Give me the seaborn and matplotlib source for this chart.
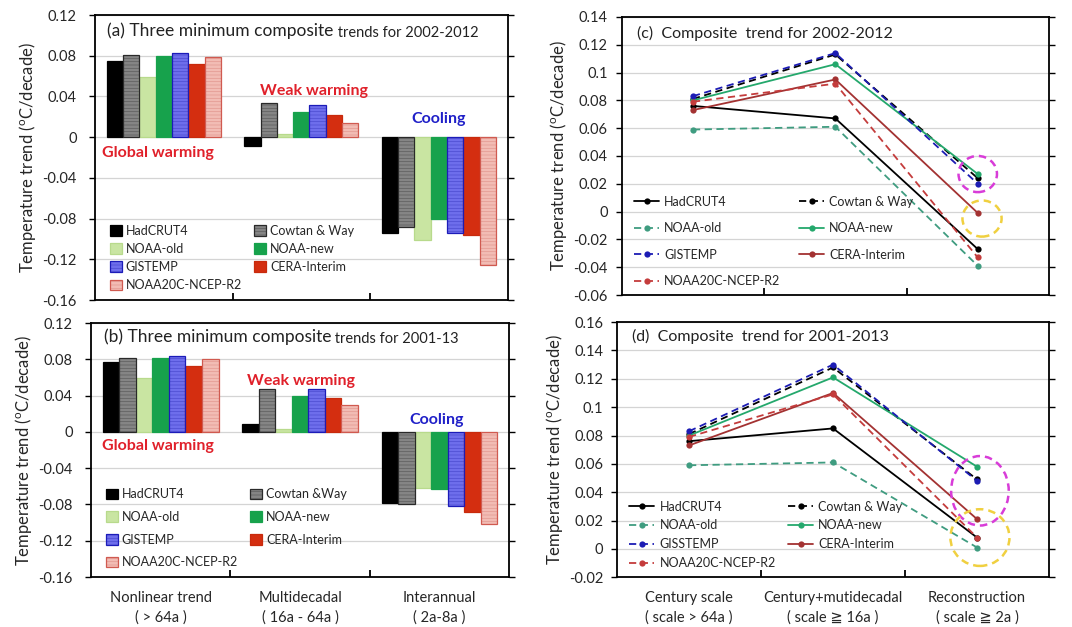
import numpy as np
import pandas as pd
import matplotlib
matplotlib.use("Agg")
import matplotlib.pyplot as plt
from matplotlib.patches import Patch, Ellipse, Rectangle
from matplotlib.lines import Line2D
from matplotlib.ticker import FixedLocator, FuncFormatter
from matplotlib.legend_handler import HandlerPatch
import seaborn as sns

# ---------------- data ----------------
datasets = ["HadCRUT4", "Cowtan & Way", "NOAA-old", "NOAA-new",
            "GISTEMP", "CERA-Interim", "NOAA20C-NCEP-R2"]

bar_scales = ["Nonlinear trend\n( > 64a )", "Multidecadal\n( 16a - 64a )",
              "Interannual\n( 2a-8a )"]
line_scales = ["Century scale\n( scale > 64a )",
               "Century+mutidecadal\n( scale \u2267 16a )",
               "Reconstruction\n( scale \u2267 2a )"]

# (a) three minimum composite trends, 2002-2012
hadcrut4_a = [0.075, -0.009, -0.094]
cowtan_a = [0.081, 0.034, -0.088]
noaa_old_a = [0.059, 0.003, -0.101]
noaa_new_a = [0.080, 0.025, -0.080]
gistemp_a = [0.083, 0.032, -0.094]
cera_a = [0.072, 0.022, -0.096]
noaa20c_a = [0.079, 0.014, -0.126]

# (b) three minimum composite trends, 2001-13
hadcrut4_b = [0.077, 0.009, -0.078]
cowtan_b = [0.081, 0.047, -0.080]
noaa_old_b = [0.059, 0.003, -0.062]
noaa_new_b = [0.081, 0.040, -0.063]
gistemp_b = [0.084, 0.047, -0.082]
cera_b = [0.073, 0.037, -0.088]
noaa20c_b = [0.080, 0.030, -0.102]

# (c) composite trend, 2002-2012
hadcrut4_c = [0.076, 0.067, -0.027]
cowtan_c = [0.081, 0.113, 0.024]
noaa_old_c = [0.059, 0.061, -0.039]
noaa_new_c = [0.080, 0.106, 0.027]
gistemp_c = [0.083, 0.114, 0.020]
cera_c = [0.073, 0.095, -0.001]
noaa20c_c = [0.079, 0.092, -0.033]

# (d) composite trend, 2001-2013
hadcrut4_d = [0.076, 0.085, 0.008]
cowtan_d = [0.081, 0.128, 0.049]
noaa_old_d = [0.059, 0.061, 0.001]
noaa_new_d = [0.080, 0.121, 0.058]
gistemp_d = [0.083, 0.130, 0.048]
cera_d = [0.073, 0.110, 0.021]
noaa20c_d = [0.079, 0.109, 0.008]

yticks_ab = [0.12, 0.08, 0.04, 0, -0.04, -0.08, -0.12, -0.16]
yticks_c = [0.14, 0.12, 0.1, 0.08, 0.06, 0.04, 0.02, 0, -0.02, -0.04, -0.06]
yticks_d = [0.16, 0.14, 0.12, 0.1, 0.08, 0.06, 0.04, 0.02, 0, -0.02]

# ---------------- styles ----------------
bar_fill = {"HadCRUT4": "#000000", "Cowtan & Way": "#858585",
            "NOAA-old": "#c9e5a2", "NOAA-new": "#17a24c",
            "GISTEMP": "#6e6eec", "CERA-Interim": "#d42e10",
            "NOAA20C-NCEP-R2": "#f2bcb4"}
bar_edge = {"HadCRUT4": "#000000", "Cowtan & Way": "#2a2a2a",
            "NOAA-old": "#b8da8c", "NOAA-new": "#17a24c",
            "GISTEMP": "#1c1cb8", "CERA-Interim": "#c82a0c",
            "NOAA20C-NCEP-R2": "#d05a50"}
# fine horizontal line texture drawn inside some bars
bar_texture = {"Cowtan & Way": "#5c5c5c", "GISTEMP": "#4c4cd0",
               "NOAA20C-NCEP-R2": "#e29890"}
texture_hatch = "-----"

line_color = {"HadCRUT4": "#000000", "Cowtan & Way": "#000000",
              "NOAA-old": "#3f9c80", "NOAA-new": "#24a86c",
              "GISTEMP": "#1c1cb4", "CERA-Interim": "#a33232",
              "NOAA20C-NCEP-R2": "#c43c3c"}
line_dashed = {"HadCRUT4": False, "Cowtan & Way": True, "NOAA-old": True,
               "NOAA-new": False, "GISTEMP": True, "CERA-Interim": False,
               "NOAA20C-NCEP-R2": True}

sns.set_theme(style="white")
plt.rcParams["font.family"] = ["Lato", "DejaVu Sans", "Noto Sans CJK JP"]
plt.rcParams["mathtext.fontset"] = "custom"
plt.rcParams["mathtext.rm"] = "Lato"
plt.rcParams["mathtext.it"] = "Lato:italic"
plt.rcParams["hatch.linewidth"] = 0.5

fig = plt.figure(figsize=(10.72, 6.27), dpi=100)
ax_a = fig.add_axes([0.0886, 0.5215, 0.385, 0.4545])
ax_b = fig.add_axes([0.0849, 0.0797, 0.390, 0.405])
ax_c = fig.add_axes([0.580, 0.5295, 0.3985, 0.4435])
ax_d = fig.add_axes([0.5756, 0.0793, 0.403, 0.407])

fmt = FuncFormatter(lambda v, p: "0" if abs(v) < 1e-9 else f"{v:g}")
ylabel = "Temperature trend ($^{\\mathrm{o}}$C/decade)"


def frame(ax, yticks, xlabels, ypad):
    ax.set_xlim(-0.5, 2.5)
    ax.set_ylim(min(yticks), max(yticks))
    ax.yaxis.set_major_locator(FixedLocator(yticks))
    ax.yaxis.set_major_formatter(fmt)
    ax.grid(axis="y", color="#d4d4d4", lw=0.9)
    ax.grid(axis="x", visible=False)
    ax.set_axisbelow(True)
    for s in ax.spines.values():
        s.set_color("black")
        s.set_linewidth(1.3)
    ax.tick_params(axis="y", left=True, right=True, direction="out",
                   length=4, width=1.0, color="black", labelsize=10.5,
                   pad=ypad)
    ax.set_xticks([0, 1, 2])
    ax.set_xticks([0.5, 1.5], minor=True)
    ax.tick_params(axis="x", which="major", length=0, pad=10,
                   labelsize=10.5)
    ax.tick_params(axis="x", which="minor", bottom=True, direction="in",
                   length=5, width=1.3, color="black")
    if xlabels is None:
        ax.set_xticklabels(["", "", ""])
    else:
        ax.set_xticklabels(xlabels, linespacing=1.45)
    ax.set_xlabel("")
    ax.set_ylabel(ylabel, fontsize=12, labelpad=3)


class TexturedSquare(HandlerPatch):
    """Legend key: a filled square with the bar's texture and outline."""

    def __init__(self, ds):
        super().__init__()
        self.ds = ds

    def create_artists(self, legend, orig_handle, xdescent, ydescent,
                       width, height, fontsize, trans):
        ds = self.ds
        inner = Rectangle((-xdescent, -ydescent), width, height,
                          facecolor=bar_fill[ds],
                          edgecolor=bar_texture.get(ds, bar_edge[ds]),
                          hatch=texture_hatch if ds in bar_texture else "",
                          linewidth=0, transform=trans)
        outline = Rectangle((-xdescent, -ydescent), width, height,
                            fill=False, edgecolor=bar_edge[ds],
                            linewidth=0.9, transform=trans)
        return [inner, outline]


def bar_panel(ax, series, labels, title_big, title_small, notes,
              legend_spacing, xlabels):
    rows = []
    for ds, vals in zip(datasets, series):
        for sc, v in zip(bar_scales, vals):
            rows.append({"scale": sc, "dataset": ds, "trend": v})
    df = pd.DataFrame(rows)
    sns.barplot(data=df, x="scale", y="trend", hue="dataset",
                order=bar_scales, hue_order=datasets, palette=bar_fill,
                width=0.83, saturation=1, legend=False, ax=ax, errorbar=None)
    for cont, ds in zip(ax.containers, datasets):
        for p in cont:
            if ds in bar_texture:
                p.set_edgecolor(bar_texture[ds])
                p.set_hatch(texture_hatch)
                p.set_linewidth(0)
                ax.add_patch(Rectangle(p.get_xy(), p.get_width(),
                                       p.get_height(), fill=False,
                                       edgecolor=bar_edge[ds],
                                       linewidth=0.9, zorder=p.get_zorder()))
            else:
                p.set_edgecolor(bar_edge[ds])
                p.set_linewidth(0.9)
    frame(ax, yticks_ab, xlabels, ypad=9)

    t1 = ax.text(0.03, 0.925, title_big, transform=ax.transAxes,
                 fontsize=12.5, va="baseline", color="#222222")
    ax.annotate(title_small, xy=(1, 0.12), xycoords=t1, fontsize=10.5,
                va="baseline", color="#222222")

    for txt, x, y, col in notes:
        ax.text(x, y, txt, ha="center", va="center", fontsize=11.5,
                fontweight="bold", color=col)

    handles = [Patch(facecolor=bar_fill[d]) for d in datasets]
    order = [0, 2, 4, 6, 1, 3, 5]
    ax.legend([handles[i] for i in order], [labels[i] for i in order],
              handler_map={handles[i]: TexturedSquare(datasets[i])
                           for i in range(len(datasets))},
              ncol=2, loc="lower left", bbox_to_anchor=(0.015, 0.0),
              frameon=False, fontsize=9, handlelength=0.95,
              handleheight=0.95, handletextpad=0.3, columnspacing=1.0,
              labelspacing=legend_spacing, borderaxespad=0.3)


def line_panel(ax, series, labels, title, yticks, ellipses, legend_spacing,
               xlabels, col_space):
    xs = [0, 1, 2]
    for ds, vals in zip(datasets, series):
        sns.lineplot(x=xs, y=vals, color=line_color[ds], marker="o",
                     markersize=4.5, markeredgewidth=0, linewidth=1.3,
                     sort=False, ax=ax, legend=False)
        if line_dashed[ds]:
            ax.lines[-1].set_dashes((4, 2.5))
    frame(ax, yticks, xlabels, ypad=6)
    ax.text(0.035, 0.925, title, transform=ax.transAxes, fontsize=11.5,
            va="baseline", color="#222222")
    for (cx, cy, w, h, col) in ellipses:
        ax.add_patch(Ellipse((cx, cy), w, h, fill=False, edgecolor=col,
                             linestyle=(0, (3, 2)), linewidth=1.8, zorder=5))
    handles = []
    for d in datasets:
        h = Line2D([], [], color=line_color[d], marker="o", markersize=4.5,
                   markeredgewidth=0, linewidth=1.3)
        if line_dashed[d]:
            h.set_dashes((4, 2.5))
        handles.append(h)
    order = [0, 2, 4, 6, 1, 3, 5]
    ax.legend([handles[i] for i in order], [labels[i] for i in order],
              ncol=2, loc="lower left", bbox_to_anchor=(0.01, 0.0),
              frameon=False, fontsize=9, handlelength=2.0,
              handletextpad=0.4, columnspacing=col_space,
              labelspacing=legend_spacing, borderaxespad=0.25)


labels_a = datasets
labels_b = ["HadCRUT4", "Cowtan &Way", "NOAA-old", "NOAA-new", "GISTEMP",
            "CERA-Interim", "NOAA20C-NCEP-R2"]
labels_d = ["HadCRUT4", "Cowtan & Way", "NOAA-old", "NOAA-new", "GISSTEMP",
            "CERA-Interim", "NOAA20C-NCEP-R2"]

red_note = "#e0202a"
blue_note = "#2020c8"

bar_panel(ax_a,
          [hadcrut4_a, cowtan_a, noaa_old_a, noaa_new_a, gistemp_a, cera_a,
           noaa20c_a],
          labels_a, "(a) Three minimum composite",
          " trends for 2002-2012",
          [("Global warming", -0.04, -0.016, red_note),
           ("Weak warming", 1.09, 0.045, red_note),
           ("Cooling", 2.0, 0.018, blue_note)],
          0.5, None)

bar_panel(ax_b,
          [hadcrut4_b, cowtan_b, noaa_old_b, noaa_new_b, gistemp_b, cera_b,
           noaa20c_b],
          labels_b, "(b) Three minimum composite", " trends for 2001-13",
          [("Global warming", -0.02, -0.016, red_note),
           ("Weak warming", 1.01, 0.056, red_note),
           ("Cooling", 1.98, 0.013, blue_note)],
          0.85, bar_scales)

line_panel(ax_c,
           [hadcrut4_c, cowtan_c, noaa_old_c, noaa_new_c, gistemp_c, cera_c,
            noaa20c_c],
           datasets, "(c)  Composite  trend for 2002-2012", yticks_c,
           [(2.0, 0.027, 0.27, 0.026, "#d83cd8"),
            (2.03, -0.005, 0.275, 0.026, "#f0d040")],
           1.15, None, 1.5)

line_panel(ax_d,
           [hadcrut4_d, cowtan_d, noaa_old_d, noaa_new_d, gistemp_d, cera_d,
            noaa20c_d],
           labels_d, "(d)  Composite  trend for 2001-2013", yticks_d,
           [(2.02, 0.041, 0.40, 0.049, "#d83cd8"),
            (2.02, 0.008, 0.41, 0.040, "#f0d040")],
           0.55, line_scales, 1.0)

fig.savefig("out.png", dpi=100)
